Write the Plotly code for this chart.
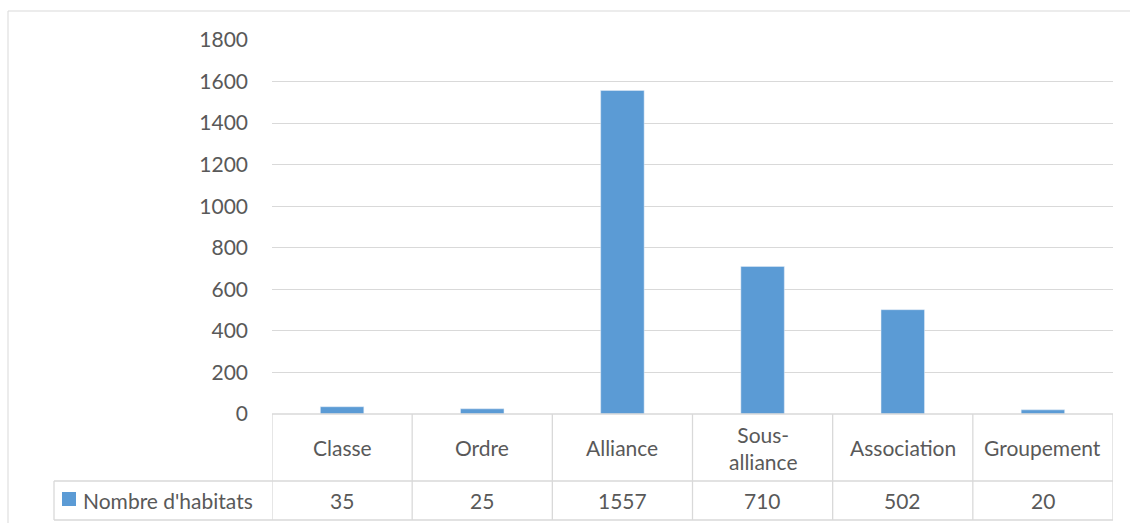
import plotly.graph_objects as go

categories = ["Classe", "Ordre", "Alliance", "Sous-alliance", "Association", "Groupement"]
header_labels = ["Classe", "Ordre", "Alliance", "Sous-<br>alliance", "Association", "Groupement"]
habitats = [35, 25, 1557, 710, 502, 20]
series_name = "Nombre d'habitats"

W, H = 1130, 523
BLUE = "#5b9bd5"
GRID = "#d9d9d9"
TEXT = "#595959"
FONT = "Lato"
FS = 21


def px(x):
    return x / W


def py(y):
    return 1 - y / H


fig = go.Figure()
fig.add_trace(go.Bar(x=list(range(len(categories))), y=habitats, name=series_name,
                     marker_color=BLUE, width=0.31, showlegend=False, hoverinfo="skip"))

shapes = []
annots = []

# outer chart border (left + top)
shapes.append(dict(type="line", xref="paper", yref="paper", x0=px(8), x1=px(8), y0=py(11), y1=0,
                   line=dict(color=GRID, width=1)))
shapes.append(dict(type="line", xref="paper", yref="paper", x0=px(8), x1=1, y0=py(11), y1=py(11),
                   line=dict(color=GRID, width=1)))

# data table grid
top, mid, bot = 414, 481, 520
for i in range(len(categories) + 1):
    shapes.append(dict(type="line", xref="x", yref="paper", x0=i - 0.5, x1=i - 0.5, y0=py(top), y1=py(bot),
                       line=dict(color=GRID, width=1.3)))
shapes.append(dict(type="line", xref="paper", yref="paper", x0=px(272), x1=px(1113), y0=py(top), y1=py(top),
                   line=dict(color=GRID, width=1.3)))
for yy in (mid, bot):
    shapes.append(dict(type="line", xref="paper", yref="paper", x0=px(54), x1=px(1113), y0=py(yy), y1=py(yy),
                       line=dict(color=GRID, width=1.3)))
shapes.append(dict(type="line", xref="paper", yref="paper", x0=px(54), x1=px(54), y0=py(mid), y1=py(bot),
                   line=dict(color=GRID, width=1.3)))

# legend key in the table
shapes.append(dict(type="rect", xref="paper", yref="paper", x0=px(62), x1=px(76), y0=py(506), y1=py(492),
                   fillcolor=BLUE, line=dict(width=0)))
annots.append(dict(text=series_name, xref="paper", yref="paper", x=px(81), y=py((mid + bot) / 2),
                   xanchor="left", yanchor="middle", showarrow=False, font=dict(size=FS, color=TEXT)))

for i, (lab, v) in enumerate(zip(header_labels, habitats)):
    annots.append(dict(text=lab, xref="x", yref="paper", x=i, y=py((top + mid) / 2),
                       xanchor="center", yanchor="middle", showarrow=False,
                       font=dict(size=FS, color=TEXT)))
    annots.append(dict(text=str(v), xref="x", yref="paper", x=i, y=py((mid + bot) / 2),
                       xanchor="center", yanchor="middle", showarrow=False,
                       font=dict(size=FS, color=TEXT)))

fig.update_layout(
    width=W, height=H,
    margin=dict(l=0, r=0, t=0, b=0, autoexpand=False),
    paper_bgcolor="white", plot_bgcolor="white",
    font=dict(family=FONT, size=FS, color=TEXT),
    shapes=shapes, annotations=annots,
    xaxis=dict(domain=[px(272), px(1113)], range=[-0.5, len(categories) - 0.5],
               showticklabels=False, showgrid=False, zeroline=False, ticks=""),
    yaxis=dict(domain=[py(top), py(40)], range=[0, 1800], dtick=200,
               showgrid=True, gridcolor=GRID, gridwidth=1.3, zeroline=False,
               ticks="", ticklabelstandoff=23, tickfont=dict(size=FS, color=TEXT)),
)

# drop the default page margin so the figure sits at the window's corner
fig.write_html("out.html", config={"displayModeBar": False},
               post_script="document.body.style.margin='0';document.body.style.overflow='hidden';")
